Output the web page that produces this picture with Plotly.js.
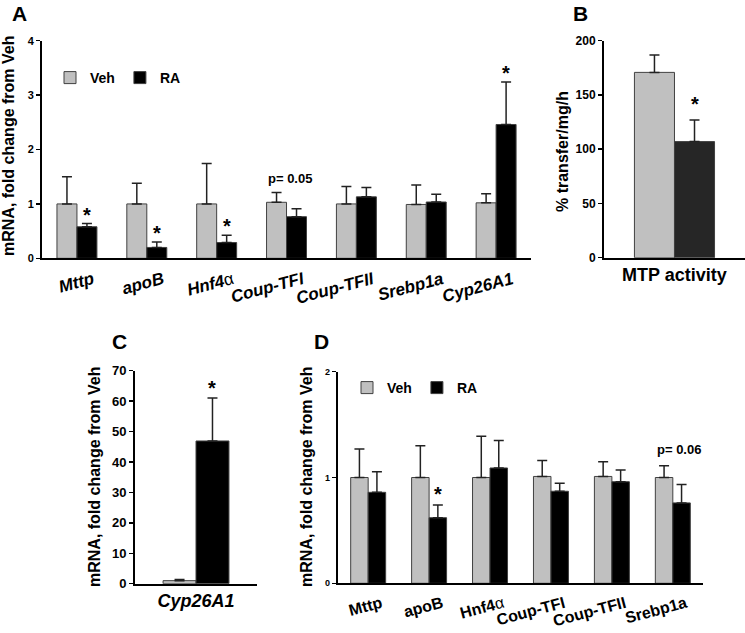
<!DOCTYPE html>
<html>
<head>
<meta charset="utf-8">
<script src="https://cdn.plot.ly/plotly-3.0.1.min.js"></script>
<style>html,body{margin:0;padding:0;background:#fff;}#chart{width:745px;height:633px;}</style>
</head>
<body>
<div id="chart"></div>
<script>
// ---- Panel A: liver mRNA ----
const catsA = ['Mttp','apoB','Hnf4α','Coup-TFI','Coup-TFII','Srebp1a','Cyp26A1'];
const labelsA = ['Mttp','apoB','Hnf4<span style="font-weight:normal;font-style:normal">α</span>','Coup-TFI','Coup-TFII','Srebp1a','Cyp26A1'];
const vehA = [1.00, 1.00, 1.00, 1.03, 1.00, 0.99, 1.02];
const vehAErr = [0.50, 0.38, 0.745, 0.18, 0.32, 0.36, 0.165];
const raA = [0.58, 0.20, 0.29, 0.765, 1.13, 1.035, 2.46];
const raAErr = [0.06, 0.10, 0.135, 0.145, 0.17, 0.145, 0.78];
const sigA = [1, 1, 1, 0, 0, 0, 1];

// ---- Panel B: MTP activity ----
const catsB = ['MTP activity'];
const vehB = [170.8];
const vehBErr = [16];
const raB = [107];
const raBErr = [20];

// ---- Panel C: Cyp26A1 ----
const catsC = ['Cyp26A1'];
const vehC = [1.0];
const vehCErr = [0.4];
const raC = [46.9];
const raCErr = [14.1];

// ---- Panel D ----
const catsD = ['Mttp','apoB','Hnf4α','Coup-TFI','Coup-TFII','Srebp1a'];
const labelsD = ['Mttp','apoB','Hnf4<span style="font-weight:normal">α</span>','Coup-TFI','Coup-TFII','Srebp1a'];
const vehD = [1.00, 1.00, 1.00, 1.01, 1.01, 1.00];
const vehDErr = [0.27, 0.30, 0.39, 0.15, 0.14, 0.11];
const raD = [0.86, 0.62, 1.09, 0.87, 0.96, 0.76];
const raDErr = [0.195, 0.12, 0.26, 0.075, 0.11, 0.175];
const sigD = [0, 1, 0, 0, 0, 0];

const FONT = 'Liberation Sans, Arial, Helvetica, sans-serif';
const VEH = '#c0c0c0';
const RA = '#000000';
const OUT = '#404040';

function bar(name, x, y, err, color, xa, ya, w, isVeh, legend, showlegend) {
  return {
    type: 'bar', name: name, x: x, y: y,
    xaxis: xa, yaxis: ya,
    width: w, offset: isVeh ? -w : 0,
    marker: {color: color, line: {color: OUT, width: 1}},
    error_y: {type: 'data', symmetric: false, array: err, arrayminus: err.map(() => 0),
              color: '#222', thickness: 1.5, width: 5},
    legend: legend, showlegend: showlegend,
    hoverinfo: 'skip'
  };
}

const wA = 0.286, wB = 0.284, wC = 0.27, wD = 0.287;

const data = [
  bar('Veh', catsA, vehA, vehAErr, VEH, 'x', 'y', wA, true, 'legend', true),
  bar('RA', catsA, raA, raAErr, RA, 'x', 'y', wA, false, 'legend', true),
  bar('Veh', catsB, vehB, vehBErr, VEH, 'x2', 'y2', wB, true, 'legend', false),
  bar('RA', catsB, raB, raBErr, '#262626', 'x2', 'y2', wB, false, 'legend', false),
  bar('Veh', catsC, vehC, vehCErr, VEH, 'x3', 'y3', wC, true, 'legend', false),
  bar('RA', catsC, raC, raCErr, RA, 'x3', 'y3', wC, false, 'legend', false),
  bar('Veh', catsD, vehD, vehDErr, VEH, 'x4', 'y4', wD, true, 'legend2', true),
  bar('RA', catsD, raD, raDErr, RA, 'x4', 'y4', wD, false, 'legend2', true)
];

function yax(domain, range, dtick, size, anchor) {
  return {domain: domain, range: range, dtick: dtick, anchor: anchor,
    showline: true, linecolor: '#000', linewidth: 2, ticks: 'outside', ticklen: 4, tickwidth: 1.5,
    tickcolor: '#000', showgrid: false, zeroline: false, fixedrange: true,
    tickfont: {family: FONT, size: size, color: '#000', weight: 'bold'}};
}
function xax(domain, cats, labels, anchor, font, angle, shift) {
  return {domain: domain, type: 'category', categoryarray: cats, categoryorder: 'array',
    tickmode: 'array', tickvals: cats, ticktext: labels,
    range: [-0.5, cats.length - 0.5], anchor: anchor,
    showline: true, linecolor: '#000', linewidth: 2, ticks: '', showgrid: false, zeroline: false,
    tickangle: angle, ticklabelshift: shift, ticklabelstandoff: angle ? 3 : 0,
    fixedrange: true, tickfont: font};
}

const annotations = [];
function addText(x, y, text, size, extra) {
  annotations.push(Object.assign({xref: 'paper', yref: 'paper', x: x / 745, y: 1 - y / 633, text: text,
    showarrow: false, xanchor: 'center', yanchor: 'middle',
    font: {family: FONT, size: size, color: '#000', weight: 'bold'}}, extra || {}));
}
// panel letters
addText(19, 14, 'A', 21);
addText(580, 14, 'B', 21);
addText(120, 341, 'C', 21);
addText(321, 341, 'D', 21);
// y axis titles
addText(8, 146, 'mRNA, fold change from Veh', 16, {textangle: -90});
addText(562, 152, '% transfer/mg/h', 16, {textangle: -90});
addText(94, 477, 'mRNA, fold change from Veh', 16, {textangle: -90});
addText(306, 477, 'mRNA, fold change from Veh', 16, {textangle: -90});

function star(xa, ya, x, y, yshift) {
  annotations.push({xref: xa, yref: ya, x: x, y: y, text: '*', showarrow: false,
    xanchor: 'center', yanchor: 'middle', yshift: yshift,
    font: {family: FONT, size: 20, color: '#000', weight: 'bold'}});
}
sigA.forEach((s, i) => { if (s) star('x', 'y', i + wA / 2, raA[i] + raAErr[i], 9); });
star('x2', 'y2', wB / 2, raB[0] + raBErr[0], 16);
star('x3', 'y3', wC / 2, raC[0] + raCErr[0], 10);
sigD.forEach((s, i) => { if (s) star('x4', 'y4', i + wD / 2, raD[i] + raDErr[i], 11); });

annotations.push({xref: 'x', yref: 'y', x: 3, y: vehA[3] + vehAErr[3], text: 'p= 0.05', showarrow: false,
  xanchor: 'center', yanchor: 'middle', xshift: 3, yshift: 14, font: {family: FONT, size: 13, color: '#000', weight: 'bold'}});
annotations.push({xref: 'x4', yref: 'y4', x: 5, y: vehD[5] + vehDErr[5], text: 'p= 0.06', showarrow: false,
  xanchor: 'center', yanchor: 'middle', xshift: 6, yshift: 16, font: {family: FONT, size: 13, color: '#000', weight: 'bold'}});

const layout = {
  width: 745, height: 633,
  margin: {l: 0, r: 0, t: 0, b: 0},
  paper_bgcolor: '#fff', plot_bgcolor: 'rgba(0,0,0,0)',
  barmode: 'overlay',
  font: {family: FONT, color: '#000'},
  showlegend: true,
  xaxis: xax([0.0564, 0.7128], catsA, labelsA, 'y', {family: FONT, size: 17, color: '#000', weight: 'bold', style: 'italic'}, -15, 16),
  yaxis: yax([0.5919, 0.9357], [0, 4], 1, 11, 'x'),
  xaxis2: xax([0.8107, 1.0], catsB, catsB, 'y2', {family: FONT, size: 18, color: '#000', weight: 'bold'}, 0, 0),
  yaxis2: yax([0.5929, 0.9357], [0, 200], 50, 12, 'x2'),
  xaxis3: xax([0.1812, 0.345], catsC, catsC, 'y3', {family: FONT, size: 18, color: '#000', weight: 'bold', style: 'italic'}, 0, 0),
  yaxis3: yax([0.0779, 0.4144], [0, 70], 10, 13, 'x3'),
  xaxis4: xax([0.4533, 0.944], catsD, labelsD, 'y4', {family: FONT, size: 16, color: '#000', weight: 'bold'}, -15, 13),
  yaxis4: yax([0.0785, 0.4128], [0, 2], 1, 9, 'x4'),
  legend: {orientation: 'h', x: 50 / 745, y: 1 - 78 / 633, xanchor: 'left', yanchor: 'middle',
    bgcolor: 'rgba(0,0,0,0)', itemwidth: 30, font: {family: FONT, size: 14, color: '#000', weight: 'bold'}},
  legend2: {orientation: 'h', x: 347 / 745, y: 1 - 388 / 633, xanchor: 'left', yanchor: 'middle',
    bgcolor: 'rgba(0,0,0,0)', itemwidth: 30, font: {family: FONT, size: 14, color: '#000', weight: 'bold'}},
  annotations: annotations
};

Plotly.newPlot('chart', data, layout, {displayModeBar: false, staticPlot: true});
</script>
</body>
</html>
